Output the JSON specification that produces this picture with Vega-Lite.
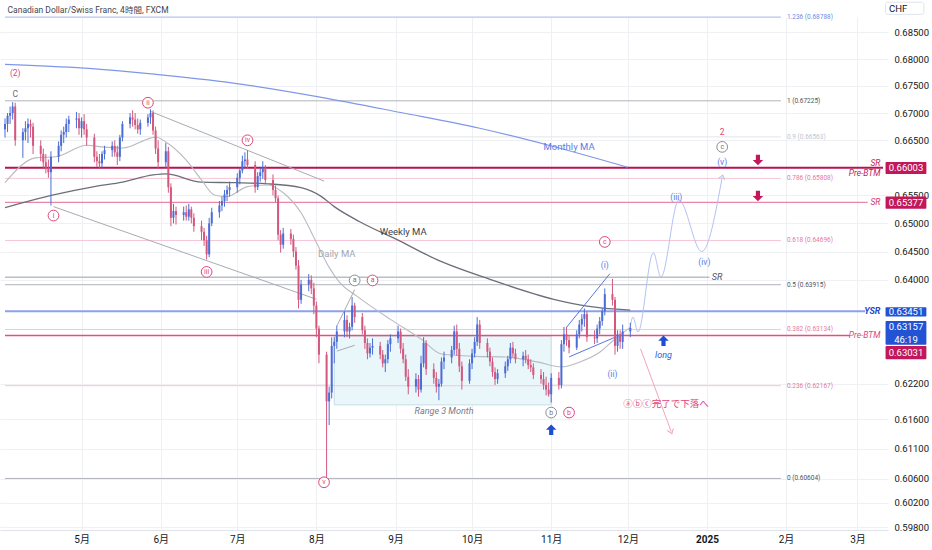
{
  "$schema": "https://vega.github.io/schema/vega-lite/v6.json",
  "width": 888,
  "height": 513,
  "autosize": "none",
  "padding": {"left": 0, "top": 17, "right": 44, "bottom": 20},
  "background": "white",
  "config": {"view": {"stroke": null}, "font": "Roboto, 'Noto Sans CJK JP', sans-serif", "axis": {"title": null}},
  "resolve": {"scale": {"color": "independent"}},
  "datasets": {
    "heading": [{"t": "2024-04-02", "p": 0.6893, "label": "Canadian Dollar/Swiss Franc, 4時間, FXCM"}],
    "range": [{"t0": "2024-08-08", "t1": "2024-11-01", "p0": 0.6184, "p1": 0.6302}],
    "fib": [
      {"p": 0.68788, "label": "1.236 (0.68788)", "tone": "blue", "t0": "2024-04-01", "t1": "2025-01-30"},
      {"p": 0.67225, "label": "1 (0.67225)", "tone": "dark", "t0": "2024-04-01", "t1": "2025-01-30"},
      {"p": 0.66563, "label": "0.9 (0.66563)", "tone": "light", "t0": "2024-04-01", "t1": "2025-01-30"},
      {"p": 0.65808, "label": "0.786 (0.65808)", "tone": "pink", "t0": "2024-04-01", "t1": "2025-01-30"},
      {"p": 0.64696, "label": "0.618 (0.64696)", "tone": "pink", "t0": "2024-04-01", "t1": "2025-01-30"},
      {"p": 0.63915, "label": "0.5 (0.63915)", "tone": "dark", "t0": "2024-04-01", "t1": "2025-01-30"},
      {"p": 0.63134, "label": "0.382 (0.63134)", "tone": "pink", "t0": "2024-04-01", "t1": "2025-01-30"},
      {"p": 0.62167, "label": "0.236 (0.62167)", "tone": "pink", "t0": "2024-04-01", "t1": "2025-01-30"},
      {"p": 0.60604, "label": "0 (0.60604)", "tone": "dark", "t0": "2024-04-01", "t1": "2025-01-30"}
    ],
    "levels": [
      {"p": 0.66003, "t0": "2024-04-01", "t1": "2025-03-11", "kind": "sr"},
      {"p": 0.65377, "t0": "2024-04-01", "t1": "2025-03-05", "kind": "sr2"},
      {"p": 0.63451, "t0": "2024-04-01", "t1": "2025-03-04", "kind": "ysr"},
      {"p": 0.63031, "t0": "2024-04-01", "t1": "2025-02-26", "kind": "pre"},
      {"p": 0.64046, "t0": "2024-04-01", "t1": "2025-01-02", "kind": "gray"}
    ],
    "tags": [
      {"t": "2025-03-10", "p": 0.6608, "label": "SR", "kind": "sr"},
      {"t": "2025-03-10", "p": 0.6591, "label": "Pre-BTM", "kind": "sr"},
      {"t": "2025-03-10", "p": 0.65377, "label": "SR", "kind": "sr2"},
      {"t": "2025-03-10", "p": 0.63031, "label": "Pre-BTM", "kind": "pre"}
    ],
    "ysrtag": [{"t": "2025-03-10", "p": 0.63451, "label": "YSR"}],
    "monthly": [
      {"t": "2024-04-01", "p": 0.6790}, {"t": "2024-05-02", "p": 0.6783}, {"t": "2024-06-02", "p": 0.6770},
      {"t": "2024-07-03", "p": 0.6753}, {"t": "2024-08-03", "p": 0.6729}, {"t": "2024-09-03", "p": 0.6701},
      {"t": "2024-10-04", "p": 0.6672}, {"t": "2024-10-31", "p": 0.6641}, {"t": "2024-12-01", "p": 0.6601}
    ],
    "weekly": [
      {"t": "2024-04-01", "p": 0.6528}, {"t": "2024-04-20", "p": 0.6551}, {"t": "2024-05-06", "p": 0.6566},
      {"t": "2024-05-17", "p": 0.6574}, {"t": "2024-05-29", "p": 0.6587}, {"t": "2024-06-03", "p": 0.6589},
      {"t": "2024-06-17", "p": 0.6574}, {"t": "2024-06-30", "p": 0.6573}, {"t": "2024-07-13", "p": 0.6571},
      {"t": "2024-07-26", "p": 0.6564}, {"t": "2024-08-03", "p": 0.6548}, {"t": "2024-08-08", "p": 0.6530},
      {"t": "2024-08-18", "p": 0.6503}, {"t": "2024-09-03", "p": 0.6468}, {"t": "2024-09-17", "p": 0.6436},
      {"t": "2024-10-08", "p": 0.6401}, {"t": "2024-11-02", "p": 0.6366}, {"t": "2024-11-15", "p": 0.6354},
      {"t": "2024-12-02", "p": 0.6347}
    ],
    "daily": [
      {"t": "2024-04-01", "p": 0.6573}, {"t": "2024-04-13", "p": 0.6618}, {"t": "2024-04-21", "p": 0.6620},
      {"t": "2024-05-03", "p": 0.6641}, {"t": "2024-05-09", "p": 0.6638}, {"t": "2024-05-17", "p": 0.6636},
      {"t": "2024-05-28", "p": 0.6654}, {"t": "2024-05-30", "p": 0.6656}, {"t": "2024-06-03", "p": 0.6647},
      {"t": "2024-06-11", "p": 0.6614}, {"t": "2024-06-17", "p": 0.6578}, {"t": "2024-06-22", "p": 0.6551},
      {"t": "2024-06-27", "p": 0.6548}, {"t": "2024-07-05", "p": 0.6566}, {"t": "2024-07-13", "p": 0.6569},
      {"t": "2024-07-19", "p": 0.6555}, {"t": "2024-07-26", "p": 0.6519}, {"t": "2024-08-01", "p": 0.6466},
      {"t": "2024-08-06", "p": 0.6422}, {"t": "2024-08-10", "p": 0.6396}, {"t": "2024-08-17", "p": 0.6371},
      {"t": "2024-08-30", "p": 0.6331}, {"t": "2024-09-11", "p": 0.6297}, {"t": "2024-09-19", "p": 0.6271},
      {"t": "2024-10-02", "p": 0.6267}, {"t": "2024-10-14", "p": 0.6266}, {"t": "2024-10-27", "p": 0.6257},
      {"t": "2024-11-05", "p": 0.6249}, {"t": "2024-11-12", "p": 0.6257}, {"t": "2024-11-20", "p": 0.6274},
      {"t": "2024-11-26", "p": 0.6297}, {"t": "2024-12-02", "p": 0.6317}
    ],
    "channels": [
      {"g": "up", "t": "2024-05-28", "p": 0.6703}, {"g": "up", "t": "2024-08-04", "p": 0.6576},
      {"g": "lo", "t": "2024-04-20", "p": 0.6530}, {"g": "lo", "t": "2024-08-01", "p": 0.6366},
      {"g": "a1", "t": "2024-08-09", "p": 0.6319}, {"g": "a1", "t": "2024-08-16", "p": 0.6383},
      {"g": "a2", "t": "2024-08-09", "p": 0.6276}, {"g": "a2", "t": "2024-08-16", "p": 0.6286}
    ],
    "diag": [
      {"g": "u", "t": "2024-11-07", "p": 0.6317}, {"g": "u", "t": "2024-11-24", "p": 0.6411},
      {"g": "l", "t": "2024-11-08", "p": 0.6266}, {"g": "l", "t": "2024-11-26", "p": 0.6300}
    ],
    "proj": [
      {"t": "2024-12-02", "p": 0.6318}, {"t": "2024-12-03", "p": 0.6335}, {"t": "2024-12-05", "p": 0.6309},
      {"t": "2024-12-11", "p": 0.6448}, {"t": "2024-12-14", "p": 0.6405}, {"t": "2024-12-21", "p": 0.6542},
      {"t": "2024-12-30", "p": 0.6450}, {"t": "2025-01-07", "p": 0.6583}
    ],
    "projhead": [{"t": "2025-01-07", "p": 0.6583}],
    "pinkarrow": [{"t": "2024-12-06", "p": 0.6280}, {"t": "2024-12-18", "p": 0.6139}],
    "pinkhead": [{"t": "2024-12-18", "p": 0.6139}],
    "candles": [
      {"t":"2024-04-01","o":0.6670,"h":0.6690,"l":0.6655,"c":0.6680},
      {"t":"2024-04-02","o":0.6680,"h":0.6700,"l":0.6665,"c":0.6695},
      {"t":"2024-04-03","o":0.6695,"h":0.6712,"l":0.6680,"c":0.6700},
      {"t":"2024-04-04","o":0.6700,"h":0.6720,"l":0.6688,"c":0.6712},
      {"t":"2024-04-05","o":0.6712,"h":0.6719,"l":0.6640,"c":0.6650},
      {"t":"2024-04-08","o":0.6650,"h":0.6672,"l":0.6618,"c":0.6665},
      {"t":"2024-04-09","o":0.6665,"h":0.6685,"l":0.6650,"c":0.6672},
      {"t":"2024-04-10","o":0.6672,"h":0.6690,"l":0.6645,"c":0.6680},
      {"t":"2024-04-11","o":0.6680,"h":0.6688,"l":0.6655,"c":0.6675},
      {"t":"2024-04-12","o":0.6675,"h":0.6682,"l":0.6625,"c":0.6640},
      {"t":"2024-04-15","o":0.6640,"h":0.6650,"l":0.6612,"c":0.6625},
      {"t":"2024-04-16","o":0.6625,"h":0.6635,"l":0.6600,"c":0.6610},
      {"t":"2024-04-17","o":0.6610,"h":0.6625,"l":0.6590,"c":0.6600},
      {"t":"2024-04-18","o":0.6600,"h":0.6615,"l":0.6582,"c":0.6592},
      {"t":"2024-04-19","o":0.6592,"h":0.6630,"l":0.6532,"c":0.6620},
      {"t":"2024-04-22","o":0.6620,"h":0.6648,"l":0.6610,"c":0.6640},
      {"t":"2024-04-23","o":0.6640,"h":0.6668,"l":0.6630,"c":0.6660},
      {"t":"2024-04-24","o":0.6660,"h":0.6675,"l":0.6645,"c":0.6665},
      {"t":"2024-04-25","o":0.6665,"h":0.6690,"l":0.6655,"c":0.6680},
      {"t":"2024-04-26","o":0.6680,"h":0.6695,"l":0.6665,"c":0.6688},
      {"t":"2024-04-29","o":0.6688,"h":0.6702,"l":0.6672,"c":0.6690},
      {"t":"2024-04-30","o":0.6690,"h":0.6700,"l":0.6660,"c":0.6672},
      {"t":"2024-05-01","o":0.6672,"h":0.6692,"l":0.6655,"c":0.6685},
      {"t":"2024-05-02","o":0.6685,"h":0.6698,"l":0.6660,"c":0.6670},
      {"t":"2024-05-03","o":0.6670,"h":0.6680,"l":0.6640,"c":0.6655},
      {"t":"2024-05-06","o":0.6655,"h":0.6662,"l":0.6610,"c":0.6620},
      {"t":"2024-05-07","o":0.6620,"h":0.6630,"l":0.6602,"c":0.6612},
      {"t":"2024-05-08","o":0.6612,"h":0.6625,"l":0.6600,"c":0.6608},
      {"t":"2024-05-09","o":0.6608,"h":0.6630,"l":0.6600,"c":0.6625},
      {"t":"2024-05-10","o":0.6625,"h":0.6640,"l":0.6615,"c":0.6632},
      {"t":"2024-05-13","o":0.6632,"h":0.6648,"l":0.6620,"c":0.6640},
      {"t":"2024-05-14","o":0.6640,"h":0.6650,"l":0.6620,"c":0.6628},
      {"t":"2024-05-15","o":0.6628,"h":0.6640,"l":0.6605,"c":0.6620},
      {"t":"2024-05-16","o":0.6620,"h":0.6660,"l":0.6612,"c":0.6655},
      {"t":"2024-05-17","o":0.6655,"h":0.6685,"l":0.6648,"c":0.6680},
      {"t":"2024-05-20","o":0.6680,"h":0.6700,"l":0.6672,"c":0.6692},
      {"t":"2024-05-21","o":0.6692,"h":0.6705,"l":0.6675,"c":0.6688},
      {"t":"2024-05-22","o":0.6688,"h":0.6700,"l":0.6670,"c":0.6678},
      {"t":"2024-05-23","o":0.6678,"h":0.6690,"l":0.6662,"c":0.6670},
      {"t":"2024-05-24","o":0.6670,"h":0.6688,"l":0.6660,"c":0.6682},
      {"t":"2024-05-27","o":0.6682,"h":0.6698,"l":0.6675,"c":0.6692},
      {"t":"2024-05-28","o":0.6692,"h":0.6707,"l":0.6680,"c":0.6700},
      {"t":"2024-05-29","o":0.6700,"h":0.6705,"l":0.6660,"c":0.6668},
      {"t":"2024-05-30","o":0.6668,"h":0.6675,"l":0.6625,"c":0.6635},
      {"t":"2024-05-31","o":0.6635,"h":0.6650,"l":0.6598,"c":0.6610},
      {"t":"2024-06-03","o":0.6610,"h":0.6645,"l":0.6600,"c":0.6630},
      {"t":"2024-06-04","o":0.6630,"h":0.6638,"l":0.6555,"c":0.6565},
      {"t":"2024-06-05","o":0.6565,"h":0.6572,"l":0.6495,"c":0.6510},
      {"t":"2024-06-06","o":0.6510,"h":0.6535,"l":0.6500,"c":0.6522},
      {"t":"2024-06-07","o":0.6522,"h":0.6530,"l":0.6498,"c":0.6515},
      {"t":"2024-06-10","o":0.6515,"h":0.6530,"l":0.6505,"c":0.6520},
      {"t":"2024-06-11","o":0.6520,"h":0.6532,"l":0.6505,"c":0.6512},
      {"t":"2024-06-12","o":0.6512,"h":0.6535,"l":0.6505,"c":0.6525},
      {"t":"2024-06-13","o":0.6525,"h":0.6530,"l":0.6500,"c":0.6510},
      {"t":"2024-06-14","o":0.6510,"h":0.6518,"l":0.6485,"c":0.6495},
      {"t":"2024-06-17","o":0.6495,"h":0.6505,"l":0.6470,"c":0.6485},
      {"t":"2024-06-18","o":0.6485,"h":0.6492,"l":0.6460,"c":0.6470},
      {"t":"2024-06-19","o":0.6470,"h":0.6478,"l":0.6436,"c":0.6445},
      {"t":"2024-06-20","o":0.6445,"h":0.6510,"l":0.6440,"c":0.6500},
      {"t":"2024-06-21","o":0.6500,"h":0.6528,"l":0.6495,"c":0.6520},
      {"t":"2024-06-24","o":0.6520,"h":0.6540,"l":0.6510,"c":0.6532},
      {"t":"2024-06-25","o":0.6532,"h":0.6548,"l":0.6522,"c":0.6540},
      {"t":"2024-06-26","o":0.6540,"h":0.6560,"l":0.6530,"c":0.6552},
      {"t":"2024-06-27","o":0.6552,"h":0.6568,"l":0.6540,"c":0.6560},
      {"t":"2024-06-28","o":0.6560,"h":0.6575,"l":0.6548,"c":0.6565},
      {"t":"2024-07-01","o":0.6565,"h":0.6590,"l":0.6555,"c":0.6582},
      {"t":"2024-07-02","o":0.6582,"h":0.6600,"l":0.6570,"c":0.6595},
      {"t":"2024-07-03","o":0.6595,"h":0.6622,"l":0.6590,"c":0.6612},
      {"t":"2024-07-04","o":0.6612,"h":0.6628,"l":0.6600,"c":0.6615},
      {"t":"2024-07-05","o":0.6615,"h":0.6632,"l":0.6598,"c":0.6605},
      {"t":"2024-07-08","o":0.6605,"h":0.6612,"l":0.6555,"c":0.6565},
      {"t":"2024-07-09","o":0.6565,"h":0.6592,"l":0.6560,"c":0.6585},
      {"t":"2024-07-10","o":0.6585,"h":0.6600,"l":0.6575,"c":0.6592},
      {"t":"2024-07-11","o":0.6592,"h":0.6612,"l":0.6580,"c":0.6600},
      {"t":"2024-07-12","o":0.6600,"h":0.6605,"l":0.6570,"c":0.6578},
      {"t":"2024-07-15","o":0.6578,"h":0.6588,"l":0.6550,"c":0.6560},
      {"t":"2024-07-16","o":0.6560,"h":0.6568,"l":0.6538,"c":0.6545},
      {"t":"2024-07-17","o":0.6545,"h":0.6550,"l":0.6470,"c":0.6480},
      {"t":"2024-07-18","o":0.6480,"h":0.6488,"l":0.6448,"c":0.6462},
      {"t":"2024-07-19","o":0.6462,"h":0.6492,"l":0.6455,"c":0.6482},
      {"t":"2024-07-22","o":0.6482,"h":0.6490,"l":0.6462,"c":0.6472},
      {"t":"2024-07-23","o":0.6472,"h":0.6480,"l":0.6440,"c":0.6450},
      {"t":"2024-07-24","o":0.6450,"h":0.6458,"l":0.6418,"c":0.6425},
      {"t":"2024-07-25","o":0.6425,"h":0.6435,"l":0.6350,"c":0.6365},
      {"t":"2024-07-26","o":0.6365,"h":0.6400,"l":0.6358,"c":0.6392},
      {"t":"2024-07-29","o":0.6392,"h":0.6410,"l":0.6380,"c":0.6400},
      {"t":"2024-07-30","o":0.6400,"h":0.6408,"l":0.6375,"c":0.6385},
      {"t":"2024-07-31","o":0.6385,"h":0.6395,"l":0.6340,"c":0.6355},
      {"t":"2024-08-01","o":0.6355,"h":0.6362,"l":0.6300,"c":0.6315},
      {"t":"2024-08-02","o":0.6315,"h":0.6320,"l":0.6255,"c":0.6270},
      {"t":"2024-08-05","o":0.6270,"h":0.6275,"l":0.6062,"c":0.6190},
      {"t":"2024-08-06","o":0.6190,"h":0.6215,"l":0.6150,"c":0.6205},
      {"t":"2024-08-07","o":0.6205,"h":0.6300,"l":0.6195,"c":0.6285},
      {"t":"2024-08-08","o":0.6285,"h":0.6300,"l":0.6255,"c":0.6292},
      {"t":"2024-08-09","o":0.6292,"h":0.6320,"l":0.6280,"c":0.6310},
      {"t":"2024-08-12","o":0.6310,"h":0.6345,"l":0.6300,"c":0.6330},
      {"t":"2024-08-13","o":0.6330,"h":0.6338,"l":0.6300,"c":0.6310},
      {"t":"2024-08-14","o":0.6310,"h":0.6325,"l":0.6298,"c":0.6318},
      {"t":"2024-08-15","o":0.6318,"h":0.6370,"l":0.6312,"c":0.6355},
      {"t":"2024-08-16","o":0.6355,"h":0.6360,"l":0.6325,"c":0.6335},
      {"t":"2024-08-19","o":0.6335,"h":0.6342,"l":0.6305,"c":0.6312},
      {"t":"2024-08-20","o":0.6312,"h":0.6320,"l":0.6280,"c":0.6290},
      {"t":"2024-08-21","o":0.6290,"h":0.6298,"l":0.6262,"c":0.6272},
      {"t":"2024-08-22","o":0.6272,"h":0.6290,"l":0.6265,"c":0.6282},
      {"t":"2024-08-23","o":0.6282,"h":0.6298,"l":0.6270,"c":0.6285},
      {"t":"2024-08-26","o":0.6285,"h":0.6292,"l":0.6262,"c":0.6270},
      {"t":"2024-08-27","o":0.6270,"h":0.6278,"l":0.6248,"c":0.6255},
      {"t":"2024-08-28","o":0.6255,"h":0.6270,"l":0.6240,"c":0.6262},
      {"t":"2024-08-29","o":0.6262,"h":0.6295,"l":0.6255,"c":0.6288},
      {"t":"2024-08-30","o":0.6288,"h":0.6305,"l":0.6275,"c":0.6298},
      {"t":"2024-09-02","o":0.6298,"h":0.6320,"l":0.6290,"c":0.6310},
      {"t":"2024-09-03","o":0.6310,"h":0.6315,"l":0.6272,"c":0.6280},
      {"t":"2024-09-04","o":0.6280,"h":0.6290,"l":0.6255,"c":0.6262},
      {"t":"2024-09-05","o":0.6262,"h":0.6270,"l":0.6225,"c":0.6232},
      {"t":"2024-09-06","o":0.6232,"h":0.6245,"l":0.6202,"c":0.6215},
      {"t":"2024-09-09","o":0.6215,"h":0.6238,"l":0.6205,"c":0.6228},
      {"t":"2024-09-10","o":0.6228,"h":0.6235,"l":0.6198,"c":0.6210},
      {"t":"2024-09-11","o":0.6210,"h":0.6268,"l":0.6205,"c":0.6255},
      {"t":"2024-09-12","o":0.6255,"h":0.6300,"l":0.6248,"c":0.6290},
      {"t":"2024-09-13","o":0.6290,"h":0.6295,"l":0.6235,"c":0.6245},
      {"t":"2024-09-16","o":0.6245,"h":0.6255,"l":0.6220,"c":0.6230},
      {"t":"2024-09-17","o":0.6230,"h":0.6240,"l":0.6205,"c":0.6215},
      {"t":"2024-09-18","o":0.6215,"h":0.6228,"l":0.6192,"c":0.6220},
      {"t":"2024-09-19","o":0.6220,"h":0.6265,"l":0.6215,"c":0.6258},
      {"t":"2024-09-20","o":0.6258,"h":0.6275,"l":0.6245,"c":0.6265},
      {"t":"2024-09-23","o":0.6265,"h":0.6285,"l":0.6255,"c":0.6278},
      {"t":"2024-09-24","o":0.6278,"h":0.6320,"l":0.6270,"c":0.6310},
      {"t":"2024-09-25","o":0.6310,"h":0.6322,"l":0.6268,"c":0.6280},
      {"t":"2024-09-26","o":0.6280,"h":0.6290,"l":0.6240,"c":0.6250},
      {"t":"2024-09-27","o":0.6250,"h":0.6258,"l":0.6210,"c":0.6225},
      {"t":"2024-09-30","o":0.6225,"h":0.6262,"l":0.6220,"c":0.6255},
      {"t":"2024-10-01","o":0.6255,"h":0.6280,"l":0.6245,"c":0.6272},
      {"t":"2024-10-02","o":0.6272,"h":0.6300,"l":0.6265,"c":0.6292},
      {"t":"2024-10-03","o":0.6292,"h":0.6335,"l":0.6285,"c":0.6322},
      {"t":"2024-10-04","o":0.6322,"h":0.6330,"l":0.6280,"c":0.6290},
      {"t":"2024-10-07","o":0.6290,"h":0.6298,"l":0.6265,"c":0.6275},
      {"t":"2024-10-08","o":0.6275,"h":0.6282,"l":0.6250,"c":0.6258},
      {"t":"2024-10-09","o":0.6258,"h":0.6265,"l":0.6232,"c":0.6240},
      {"t":"2024-10-10","o":0.6240,"h":0.6248,"l":0.6218,"c":0.6228},
      {"t":"2024-10-11","o":0.6228,"h":0.6245,"l":0.6220,"c":0.6238},
      {"t":"2024-10-14","o":0.6238,"h":0.6258,"l":0.6230,"c":0.6250},
      {"t":"2024-10-15","o":0.6250,"h":0.6268,"l":0.6242,"c":0.6262},
      {"t":"2024-10-16","o":0.6262,"h":0.6290,"l":0.6255,"c":0.6282},
      {"t":"2024-10-17","o":0.6282,"h":0.6292,"l":0.6265,"c":0.6272},
      {"t":"2024-10-18","o":0.6272,"h":0.6280,"l":0.6255,"c":0.6262},
      {"t":"2024-10-21","o":0.6262,"h":0.6275,"l":0.6250,"c":0.6268},
      {"t":"2024-10-22","o":0.6268,"h":0.6278,"l":0.6255,"c":0.6262},
      {"t":"2024-10-23","o":0.6262,"h":0.6270,"l":0.6245,"c":0.6252},
      {"t":"2024-10-24","o":0.6252,"h":0.6262,"l":0.6240,"c":0.6248},
      {"t":"2024-10-25","o":0.6248,"h":0.6255,"l":0.6228,"c":0.6235},
      {"t":"2024-10-28","o":0.6235,"h":0.6245,"l":0.6220,"c":0.6228},
      {"t":"2024-10-29","o":0.6228,"h":0.6240,"l":0.6210,"c":0.6218},
      {"t":"2024-10-30","o":0.6218,"h":0.6232,"l":0.6200,"c":0.6210},
      {"t":"2024-10-31","o":0.6210,"h":0.6222,"l":0.6198,"c":0.6202},
      {"t":"2024-11-01","o":0.6202,"h":0.6238,"l":0.6188,"c":0.6230},
      {"t":"2024-11-04","o":0.6230,"h":0.6240,"l":0.6210,"c":0.6218},
      {"t":"2024-11-05","o":0.6218,"h":0.6295,"l":0.6212,"c":0.6288},
      {"t":"2024-11-06","o":0.6288,"h":0.6318,"l":0.6275,"c":0.6305},
      {"t":"2024-11-07","o":0.6305,"h":0.6318,"l":0.6285,"c":0.6295},
      {"t":"2024-11-08","o":0.6295,"h":0.6302,"l":0.6272,"c":0.6282},
      {"t":"2024-11-11","o":0.6282,"h":0.6312,"l":0.6278,"c":0.6305},
      {"t":"2024-11-12","o":0.6305,"h":0.6330,"l":0.6298,"c":0.6322},
      {"t":"2024-11-13","o":0.6322,"h":0.6340,"l":0.6310,"c":0.6332},
      {"t":"2024-11-14","o":0.6332,"h":0.6350,"l":0.6318,"c":0.6340},
      {"t":"2024-11-15","o":0.6340,"h":0.6345,"l":0.6292,"c":0.6300},
      {"t":"2024-11-18","o":0.6300,"h":0.6312,"l":0.6288,"c":0.6298},
      {"t":"2024-11-19","o":0.6298,"h":0.6322,"l":0.6290,"c":0.6315},
      {"t":"2024-11-20","o":0.6315,"h":0.6335,"l":0.6305,"c":0.6328},
      {"t":"2024-11-21","o":0.6328,"h":0.6350,"l":0.6320,"c":0.6345},
      {"t":"2024-11-22","o":0.6345,"h":0.6385,"l":0.6338,"c":0.6375},
      {"t":"2024-11-25","o":0.6375,"h":0.6402,"l":0.6355,"c":0.6365},
      {"t":"2024-11-26","o":0.6365,"h":0.6370,"l":0.6270,"c":0.6285},
      {"t":"2024-11-27","o":0.6285,"h":0.6312,"l":0.6275,"c":0.6305},
      {"t":"2024-11-28","o":0.6305,"h":0.6312,"l":0.6280,"c":0.6292},
      {"t":"2024-11-29","o":0.6292,"h":0.6322,"l":0.6280,"c":0.6310},
      {"t":"2024-12-02","o":0.6310,"h":0.6325,"l":0.6300,"c":0.6316}
    ],
    "circles": [
      {"t": "2024-05-27", "p": 0.6719, "label": "ii", "tone": "pink"},
      {"t": "2024-04-20", "p": 0.6514, "label": "i", "tone": "pink"},
      {"t": "2024-06-19", "p": 0.6414, "label": "iii", "tone": "pink"},
      {"t": "2024-07-05", "p": 0.6650, "label": "iv", "tone": "pink"},
      {"t": "2024-08-04", "p": 0.6054, "label": "v", "tone": "pink"},
      {"t": "2024-08-16", "p": 0.6399, "label": "a", "tone": "gray"},
      {"t": "2024-08-23", "p": 0.6399, "label": "a", "tone": "pink"},
      {"t": "2024-11-01", "p": 0.6171, "label": "b", "tone": "gray"},
      {"t": "2024-11-08", "p": 0.6171, "label": "b", "tone": "pink"},
      {"t": "2024-11-22", "p": 0.6467, "label": "c", "tone": "pink"},
      {"t": "2025-01-07", "p": 0.6638, "label": "c", "tone": "gray"}
    ],
    "wavetext": [
      {"t": "2024-11-22", "p": 0.6427, "label": "(i)", "tone": "blue"},
      {"t": "2024-11-25", "p": 0.6237, "label": "(ii)", "tone": "blue"},
      {"t": "2024-12-20", "p": 0.6547, "label": "(iii)", "tone": "blue"},
      {"t": "2024-12-31", "p": 0.6432, "label": "(iv)", "tone": "blue"},
      {"t": "2025-01-07", "p": 0.6611, "label": "(v)", "tone": "blue"},
      {"t": "2024-04-05", "p": 0.6774, "label": "(2)", "tone": "pink"},
      {"t": "2025-01-07", "p": 0.6665, "label": "2", "tone": "pink"},
      {"t": "2024-04-05", "p": 0.6735, "label": "C", "tone": "gray"}
    ],
    "malabels": [
      {"t": "2024-11-08", "p": 0.6638, "label": "Monthly MA", "kind": "m"},
      {"t": "2024-09-04", "p": 0.6485, "label": "Weekly MA", "kind": "w"},
      {"t": "2024-08-09", "p": 0.6446, "label": "Daily MA", "kind": "d"}
    ],
    "italic": [
      {"t": "2024-09-20", "p": 0.6173, "label": "Range 3 Month", "tone": "gray"},
      {"t": "2024-12-15", "p": 0.6270, "label": "long", "tone": "blue"},
      {"t": "2025-01-05", "p": 0.64046, "label": "SR", "tone": "dark"}
    ],
    "jp": [{"t": "2024-12-16", "p": 0.6186, "label": "ⓐⓑⓒ完了で下落へ"}],
    "arrows": [
      {"t": "2024-11-01", "p": 0.6142, "dir": "up"},
      {"t": "2024-12-15", "p": 0.6294, "dir": "up"},
      {"t": "2025-01-21", "p": 0.6614, "dir": "down"},
      {"t": "2025-01-21", "p": 0.6549, "dir": "down"}
    ],
    "pboxes": [
      {"t0": "2025-03-12", "t1": "2025-03-28", "lo": 0.65888, "hi": 0.66105, "tone": "red"},
      {"t0": "2025-03-12", "t1": "2025-03-28", "lo": 0.6526, "hi": 0.6548, "tone": "red"},
      {"t0": "2025-03-12", "t1": "2025-03-28", "lo": 0.6336, "hi": 0.6352, "tone": "blue"},
      {"t0": "2025-03-12", "t1": "2025-03-28", "lo": 0.6287, "hi": 0.6328, "tone": "blue"},
      {"t0": "2025-03-12", "t1": "2025-03-28", "lo": 0.6262, "hi": 0.6285, "tone": "red"}
    ],
    "ptext": [
      {"t": "2025-03-20", "p": 0.6600, "label": "0.66003"},
      {"t": "2025-03-20", "p": 0.6537, "label": "0.65377"},
      {"t": "2025-03-20", "p": 0.6344, "label": "0.63451"},
      {"t": "2025-03-20", "p": 0.6317, "label": "0.63157"},
      {"t": "2025-03-20", "p": 0.6295, "label": "46:19"},
      {"t": "2025-03-20", "p": 0.6273, "label": "0.63031"}
    ],
    "chf": [{"t0": "2025-03-12", "t1": "2025-03-27", "lo": 0.6884, "hi": 0.6907, "t": "2025-03-13", "p": 0.6895, "label": "CHF"}]
  },
  "layer": [
    {
      "data": {"name": "range"},
      "mark": {"type": "rect", "fill": "#e9f6fa", "stroke": "#c6dde4", "strokeWidth": 1},
      "encoding": {
        "x": {"field": "t0", "type": "temporal", "scale": {"domain": [{"year": 2024, "month": 4, "date": 1}, {"year": 2025, "month": 3, "date": 11}]},
          "axis": {"orient": "bottom", "title": null, "values": [{"year": 2024, "month": 5, "date": 1}, {"year": 2024, "month": 6, "date": 1}, {"year": 2024, "month": 7, "date": 1}, {"year": 2024, "month": 8, "date": 1}, {"year": 2024, "month": 9, "date": 1}, {"year": 2024, "month": 10, "date": 1}, {"year": 2024, "month": 11, "date": 1}, {"year": 2024, "month": 12, "date": 1}, {"year": 2025, "month": 1, "date": 1}, {"year": 2025, "month": 2, "date": 1}, {"year": 2025, "month": 3, "date": 1}],
            "labelExpr": "month(datum.value) == 0 ? '' + year(datum.value) : (month(datum.value) + 1) + '月'",
            "grid": true, "gridColor": "#eef0f4", "domain": true, "domainColor": "#e0e3eb", "ticks": false, "labelFontSize": 10, "labelColor": "#131722", "labelPadding": 4,
            "labelFontWeight": {"condition": {"test": "month(datum.value) == 0", "value": "bold"}, "value": "normal"}}},
        "x2": {"field": "t1"},
        "y": {"field": "p0", "type": "quantitative", "scale": {"type": "log", "domain": [0.59752, 0.6879], "nice": false},
          "axis": {"orient": "right", "title": null, "values": [0.685, 0.68, 0.675, 0.67, 0.665, 0.655, 0.65, 0.645, 0.64, 0.622, 0.616, 0.611, 0.606, 0.602, 0.598], "format": ".5f", "grid": true, "gridColor": "#eef0f4", "domain": false, "ticks": false, "labelAlign": "left", "labelPadding": 6, "labelFontSize": 9.5, "labelColor": "#131722", "labelOverlap": false, "labelBound": false}},
        "y2": {"field": "p1"}
      }
    },
    {
      "data": {"name": "fib"},
      "mark": {"type": "rule", "strokeWidth": 1},
      "encoding": {
        "x": {"field": "t0", "type": "temporal", "scale": {"domain": [{"year": 2024, "month": 4, "date": 1}, {"year": 2025, "month": 3, "date": 11}]}},
        "x2": {"field": "t1"},
        "y": {"field": "p", "type": "quantitative", "scale": {"type": "log", "domain": [0.59752, 0.6879], "nice": false}},
        "color": {"field": "tone", "type": "nominal", "scale": {"domain": ["blue", "dark", "light", "pink"], "range": ["#a4b6f0", "#b0b3ba", "#e3e5e9", "#f6c6d5"]}, "legend": null}
      }
    },
    {
      "data": {"name": "levels"},
      "transform": [{"filter": "datum.kind == 'sr' || datum.kind == 'ysr'"}],
      "mark": {"type": "rule", "strokeWidth": 2},
      "encoding": {
        "x": {"field": "t0", "type": "temporal", "scale": {"domain": [{"year": 2024, "month": 4, "date": 1}, {"year": 2025, "month": 3, "date": 11}]}},
        "x2": {"field": "t1"},
        "y": {"field": "p", "type": "quantitative", "scale": {"type": "log", "domain": [0.59752, 0.6879], "nice": false}},
        "color": {"field": "kind", "type": "nominal", "scale": {"domain": ["sr", "ysr"], "range": ["#b8134f", "#8aa2ea"]}, "legend": null}
      }
    },
    {
      "data": {"name": "levels"},
      "transform": [{"filter": "datum.kind != 'sr' && datum.kind != 'ysr'"}],
      "mark": {"type": "rule", "strokeWidth": 1.4},
      "encoding": {
        "x": {"field": "t0", "type": "temporal", "scale": {"domain": [{"year": 2024, "month": 4, "date": 1}, {"year": 2025, "month": 3, "date": 11}]}},
        "x2": {"field": "t1"},
        "y": {"field": "p", "type": "quantitative", "scale": {"type": "log", "domain": [0.59752, 0.6879], "nice": false}},
        "color": {"field": "kind", "type": "nominal", "scale": {"domain": ["sr2", "pre", "gray"], "range": ["#ea86a8", "#e2507f", "#bcbec5"]}, "legend": null}
      }
    },
    {
      "data": {"name": "monthly"},
      "mark": {"type": "line", "color": "#7f97e8", "strokeWidth": 1.2, "interpolate": "monotone"},
      "encoding": {
        "x": {"field": "t", "type": "temporal", "scale": {"domain": [{"year": 2024, "month": 4, "date": 1}, {"year": 2025, "month": 3, "date": 11}]}},
        "y": {"field": "p", "type": "quantitative", "scale": {"type": "log", "domain": [0.59752, 0.6879], "nice": false}}
      }
    },
    {
      "data": {"name": "weekly"},
      "mark": {"type": "line", "color": "#6c6f79", "strokeWidth": 1.3, "interpolate": "monotone"},
      "encoding": {
        "x": {"field": "t", "type": "temporal", "scale": {"domain": [{"year": 2024, "month": 4, "date": 1}, {"year": 2025, "month": 3, "date": 11}]}},
        "y": {"field": "p", "type": "quantitative", "scale": {"type": "log", "domain": [0.59752, 0.6879], "nice": false}}
      }
    },
    {
      "data": {"name": "daily"},
      "mark": {"type": "line", "color": "#b9bbc2", "strokeWidth": 1.1, "interpolate": "monotone"},
      "encoding": {
        "x": {"field": "t", "type": "temporal", "scale": {"domain": [{"year": 2024, "month": 4, "date": 1}, {"year": 2025, "month": 3, "date": 11}]}},
        "y": {"field": "p", "type": "quantitative", "scale": {"type": "log", "domain": [0.59752, 0.6879], "nice": false}}
      }
    },
    {
      "data": {"name": "channels"},
      "mark": {"type": "line", "color": "#a8abb3", "strokeWidth": 1},
      "encoding": {
        "x": {"field": "t", "type": "temporal", "scale": {"domain": [{"year": 2024, "month": 4, "date": 1}, {"year": 2025, "month": 3, "date": 11}]}},
        "y": {"field": "p", "type": "quantitative", "scale": {"type": "log", "domain": [0.59752, 0.6879], "nice": false}},
        "detail": {"field": "g"}
      }
    },
    {
      "data": {"name": "diag"},
      "mark": {"type": "line", "color": "#5577e0", "strokeWidth": 1},
      "encoding": {
        "x": {"field": "t", "type": "temporal", "scale": {"domain": [{"year": 2024, "month": 4, "date": 1}, {"year": 2025, "month": 3, "date": 11}]}},
        "y": {"field": "p", "type": "quantitative", "scale": {"type": "log", "domain": [0.59752, 0.6879], "nice": false}},
        "detail": {"field": "g"}
      }
    },
    {
      "data": {"name": "proj"},
      "mark": {"type": "line", "color": "#b3c3f2", "strokeWidth": 1, "interpolate": "monotone"},
      "encoding": {
        "x": {"field": "t", "type": "temporal", "scale": {"domain": [{"year": 2024, "month": 4, "date": 1}, {"year": 2025, "month": 3, "date": 11}]}},
        "y": {"field": "p", "type": "quantitative", "scale": {"type": "log", "domain": [0.59752, 0.6879], "nice": false}}
      }
    },
    {
      "data": {"name": "projhead"},
      "mark": {"type": "point", "shape": "M-1,0.7L0,-0.7L1,0.7", "filled": false, "stroke": "#b3c3f2", "strokeWidth": 1, "size": 40, "angle": 16, "opacity": 1},
      "encoding": {
        "x": {"field": "t", "type": "temporal", "scale": {"domain": [{"year": 2024, "month": 4, "date": 1}, {"year": 2025, "month": 3, "date": 11}]}},
        "y": {"field": "p", "type": "quantitative", "scale": {"type": "log", "domain": [0.59752, 0.6879], "nice": false}}
      }
    },
    {
      "data": {"name": "pinkarrow"},
      "mark": {"type": "line", "color": "#f2a5bd", "strokeWidth": 1},
      "encoding": {
        "x": {"field": "t", "type": "temporal", "scale": {"domain": [{"year": 2024, "month": 4, "date": 1}, {"year": 2025, "month": 3, "date": 11}]}},
        "y": {"field": "p", "type": "quantitative", "scale": {"type": "log", "domain": [0.59752, 0.6879], "nice": false}}
      }
    },
    {
      "data": {"name": "pinkhead"},
      "mark": {"type": "point", "shape": "M-1,0.7L0,-0.7L1,0.7", "filled": false, "stroke": "#f2a5bd", "strokeWidth": 1, "size": 40, "angle": 160, "opacity": 1},
      "encoding": {
        "x": {"field": "t", "type": "temporal", "scale": {"domain": [{"year": 2024, "month": 4, "date": 1}, {"year": 2025, "month": 3, "date": 11}]}},
        "y": {"field": "p", "type": "quantitative", "scale": {"type": "log", "domain": [0.59752, 0.6879], "nice": false}}
      }
    },
    {
      "data": {"name": "candles"},
      "mark": {"type": "rule", "strokeWidth": 1},
      "encoding": {
        "x": {"field": "t", "type": "temporal", "scale": {"domain": [{"year": 2024, "month": 4, "date": 1}, {"year": 2025, "month": 3, "date": 11}]}},
        "y": {"field": "l", "type": "quantitative", "scale": {"type": "log", "domain": [0.59752, 0.6879], "nice": false}},
        "y2": {"field": "h"},
        "color": {"condition": {"test": "datum.c >= datum.o", "value": "#4d6dd6"}, "value": "#d3587e"}
      }
    },
    {
      "data": {"name": "candles"},
      "mark": {"type": "bar", "size": 2},
      "encoding": {
        "x": {"field": "t", "type": "temporal", "scale": {"domain": [{"year": 2024, "month": 4, "date": 1}, {"year": 2025, "month": 3, "date": 11}]}},
        "y": {"field": "o", "type": "quantitative", "scale": {"type": "log", "domain": [0.59752, 0.6879], "nice": false}},
        "y2": {"field": "c"},
        "color": {"condition": {"test": "datum.c >= datum.o", "value": "#4d6dd6"}, "value": "#d3587e"}
      }
    },
    {
      "data": {"name": "fib"},
      "mark": {"type": "text", "align": "left", "baseline": "middle", "dx": 6, "fontSize": 6.5},
      "encoding": {
        "x": {"field": "t1", "type": "temporal", "scale": {"domain": [{"year": 2024, "month": 4, "date": 1}, {"year": 2025, "month": 3, "date": 11}]}},
        "y": {"field": "p", "type": "quantitative", "scale": {"type": "log", "domain": [0.59752, 0.6879], "nice": false}},
        "text": {"field": "label"},
        "color": {"field": "tone", "type": "nominal", "scale": {"domain": ["blue", "dark", "light", "pink"], "range": ["#6f8be6", "#50535e", "#c3c5cb", "#e5799c"]}, "legend": null}
      }
    },
    {
      "data": {"name": "tags"},
      "mark": {"type": "text", "align": "right", "baseline": "middle", "fontSize": 8.5, "fontStyle": "italic"},
      "encoding": {
        "x": {"field": "t", "type": "temporal", "scale": {"domain": [{"year": 2024, "month": 4, "date": 1}, {"year": 2025, "month": 3, "date": 11}]}},
        "y": {"field": "p", "type": "quantitative", "scale": {"type": "log", "domain": [0.59752, 0.6879], "nice": false}},
        "text": {"field": "label"},
        "color": {"field": "kind", "type": "nominal", "scale": {"domain": ["sr", "sr2", "pre"], "range": ["#c2185b", "#d6336c", "#e0457b"]}, "legend": null}
      }
    },
    {
      "data": {"name": "ysrtag"},
      "mark": {"type": "text", "align": "right", "baseline": "middle", "fontSize": 9, "fontStyle": "italic", "fontWeight": "bold", "color": "#2649c8"},
      "encoding": {
        "x": {"field": "t", "type": "temporal", "scale": {"domain": [{"year": 2024, "month": 4, "date": 1}, {"year": 2025, "month": 3, "date": 11}]}},
        "y": {"field": "p", "type": "quantitative", "scale": {"type": "log", "domain": [0.59752, 0.6879], "nice": false}},
        "text": {"field": "label"}
      }
    },
    {
      "data": {"name": "circles"},
      "mark": {"type": "point", "shape": "circle", "filled": true, "fill": "white", "size": 115, "strokeWidth": 1, "opacity": 1},
      "encoding": {
        "x": {"field": "t", "type": "temporal", "scale": {"domain": [{"year": 2024, "month": 4, "date": 1}, {"year": 2025, "month": 3, "date": 11}]}},
        "y": {"field": "p", "type": "quantitative", "scale": {"type": "log", "domain": [0.59752, 0.6879], "nice": false}},
        "stroke": {"field": "tone", "type": "nominal", "scale": {"domain": ["pink", "gray"], "range": ["#e0457b", "#8b8e96"]}, "legend": null}
      }
    },
    {
      "data": {"name": "circles"},
      "mark": {"type": "text", "align": "center", "baseline": "middle", "fontSize": 7},
      "encoding": {
        "x": {"field": "t", "type": "temporal", "scale": {"domain": [{"year": 2024, "month": 4, "date": 1}, {"year": 2025, "month": 3, "date": 11}]}},
        "y": {"field": "p", "type": "quantitative", "scale": {"type": "log", "domain": [0.59752, 0.6879], "nice": false}},
        "text": {"field": "label"},
        "color": {"field": "tone", "type": "nominal", "scale": {"domain": ["pink", "gray"], "range": ["#e0457b", "#6f727b"]}, "legend": null}
      }
    },
    {
      "data": {"name": "wavetext"},
      "mark": {"type": "text", "align": "center", "baseline": "middle", "fontSize": 8.5},
      "encoding": {
        "x": {"field": "t", "type": "temporal", "scale": {"domain": [{"year": 2024, "month": 4, "date": 1}, {"year": 2025, "month": 3, "date": 11}]}},
        "y": {"field": "p", "type": "quantitative", "scale": {"type": "log", "domain": [0.59752, 0.6879], "nice": false}},
        "text": {"field": "label"},
        "color": {"field": "tone", "type": "nominal", "scale": {"domain": ["blue", "pink", "gray"], "range": ["#5b7ee5", "#e0457b", "#6a6d78"]}, "legend": null}
      }
    },
    {
      "data": {"name": "malabels"},
      "mark": {"type": "text", "align": "center", "baseline": "middle", "fontSize": 9.5},
      "encoding": {
        "x": {"field": "t", "type": "temporal", "scale": {"domain": [{"year": 2024, "month": 4, "date": 1}, {"year": 2025, "month": 3, "date": 11}]}},
        "y": {"field": "p", "type": "quantitative", "scale": {"type": "log", "domain": [0.59752, 0.6879], "nice": false}},
        "text": {"field": "label"},
        "color": {"field": "kind", "type": "nominal", "scale": {"domain": ["m", "w", "d"], "range": ["#5a7de3", "#3b3e48", "#a3a6ad"]}, "legend": null}
      }
    },
    {
      "data": {"name": "italic"},
      "mark": {"type": "text", "align": "center", "baseline": "middle", "fontSize": 9, "fontStyle": "italic"},
      "encoding": {
        "x": {"field": "t", "type": "temporal", "scale": {"domain": [{"year": 2024, "month": 4, "date": 1}, {"year": 2025, "month": 3, "date": 11}]}},
        "y": {"field": "p", "type": "quantitative", "scale": {"type": "log", "domain": [0.59752, 0.6879], "nice": false}},
        "text": {"field": "label"},
        "color": {"field": "tone", "type": "nominal", "scale": {"domain": ["gray", "blue", "dark"], "range": ["#787b86", "#2e5bd8", "#50535e"]}, "legend": null}
      }
    },
    {
      "data": {"name": "jp"},
      "mark": {"type": "text", "align": "center", "baseline": "middle", "fontSize": 9.5, "font": "Noto Sans CJK JP", "color": "#e0457b"},
      "encoding": {
        "x": {"field": "t", "type": "temporal", "scale": {"domain": [{"year": 2024, "month": 4, "date": 1}, {"year": 2025, "month": 3, "date": 11}]}},
        "y": {"field": "p", "type": "quantitative", "scale": {"type": "log", "domain": [0.59752, 0.6879], "nice": false}},
        "text": {"field": "label"}
      }
    },
    {
      "data": {"name": "arrows"},
      "mark": {"type": "point", "filled": true, "size": 110, "opacity": 1},
      "encoding": {
        "x": {"field": "t", "type": "temporal", "scale": {"domain": [{"year": 2024, "month": 4, "date": 1}, {"year": 2025, "month": 3, "date": 11}]}},
        "y": {"field": "p", "type": "quantitative", "scale": {"type": "log", "domain": [0.59752, 0.6879], "nice": false}},
        "shape": {"field": "dir", "type": "nominal", "scale": {"domain": ["up", "down"], "range": ["M0,-1L1,0L0.4,0L0.4,1L-0.4,1L-0.4,0L-1,0Z", "M0,1L1,0L0.4,0L0.4,-1L-0.4,-1L-0.4,0L-1,0Z"]}, "legend": null},
        "color": {"field": "dir", "type": "nominal", "scale": {"domain": ["up", "down"], "range": ["#1f4fd1", "#c2185b"]}, "legend": null}
      }
    },
    {
      "data": {"name": "pboxes"},
      "mark": {"type": "rect", "cornerRadius": 1},
      "encoding": {
        "x": {"field": "t0", "type": "temporal", "scale": {"domain": [{"year": 2024, "month": 4, "date": 1}, {"year": 2025, "month": 3, "date": 11}]}},
        "x2": {"field": "t1"},
        "y": {"field": "lo", "type": "quantitative", "scale": {"type": "log", "domain": [0.59752, 0.6879], "nice": false}},
        "y2": {"field": "hi"},
        "color": {"field": "tone", "type": "nominal", "scale": {"domain": ["red", "blue"], "range": ["#c2185b", "#2153d3"]}, "legend": null}
      }
    },
    {
      "data": {"name": "ptext"},
      "mark": {"type": "text", "align": "center", "baseline": "middle", "fontSize": 9.5, "color": "white"},
      "encoding": {
        "x": {"field": "t", "type": "temporal", "scale": {"domain": [{"year": 2024, "month": 4, "date": 1}, {"year": 2025, "month": 3, "date": 11}]}},
        "y": {"field": "p", "type": "quantitative", "scale": {"type": "log", "domain": [0.59752, 0.6879], "nice": false}},
        "text": {"field": "label"}
      }
    },
    {
      "data": {"name": "chf"},
      "mark": {"type": "rect", "fill": "white", "stroke": "#e0e3eb", "strokeWidth": 1, "cornerRadius": 2},
      "encoding": {
        "x": {"field": "t0", "type": "temporal", "scale": {"domain": [{"year": 2024, "month": 4, "date": 1}, {"year": 2025, "month": 3, "date": 11}]}},
        "x2": {"field": "t1"},
        "y": {"field": "lo", "type": "quantitative", "scale": {"type": "log", "domain": [0.59752, 0.6879], "nice": false}},
        "y2": {"field": "hi"}
      }
    },
    {
      "data": {"name": "chf"},
      "mark": {"type": "text", "align": "left", "baseline": "middle", "fontSize": 9.5, "color": "#131722", "dx": 1},
      "encoding": {
        "x": {"field": "t", "type": "temporal", "scale": {"domain": [{"year": 2024, "month": 4, "date": 1}, {"year": 2025, "month": 3, "date": 11}]}},
        "y": {"field": "p", "type": "quantitative", "scale": {"type": "log", "domain": [0.59752, 0.6879], "nice": false}},
        "text": {"field": "label"}
      }
    },
    {
      "data": {"name": "heading"},
      "mark": {"type": "text", "align": "left", "baseline": "middle", "fontSize": 8.5, "color": "#434651"},
      "encoding": {
        "x": {"field": "t", "type": "temporal", "scale": {"domain": [{"year": 2024, "month": 4, "date": 1}, {"year": 2025, "month": 3, "date": 11}]}},
        "y": {"field": "p", "type": "quantitative", "scale": {"type": "log", "domain": [0.59752, 0.6879], "nice": false}},
        "text": {"field": "label"}
      }
    }
  ]
}
